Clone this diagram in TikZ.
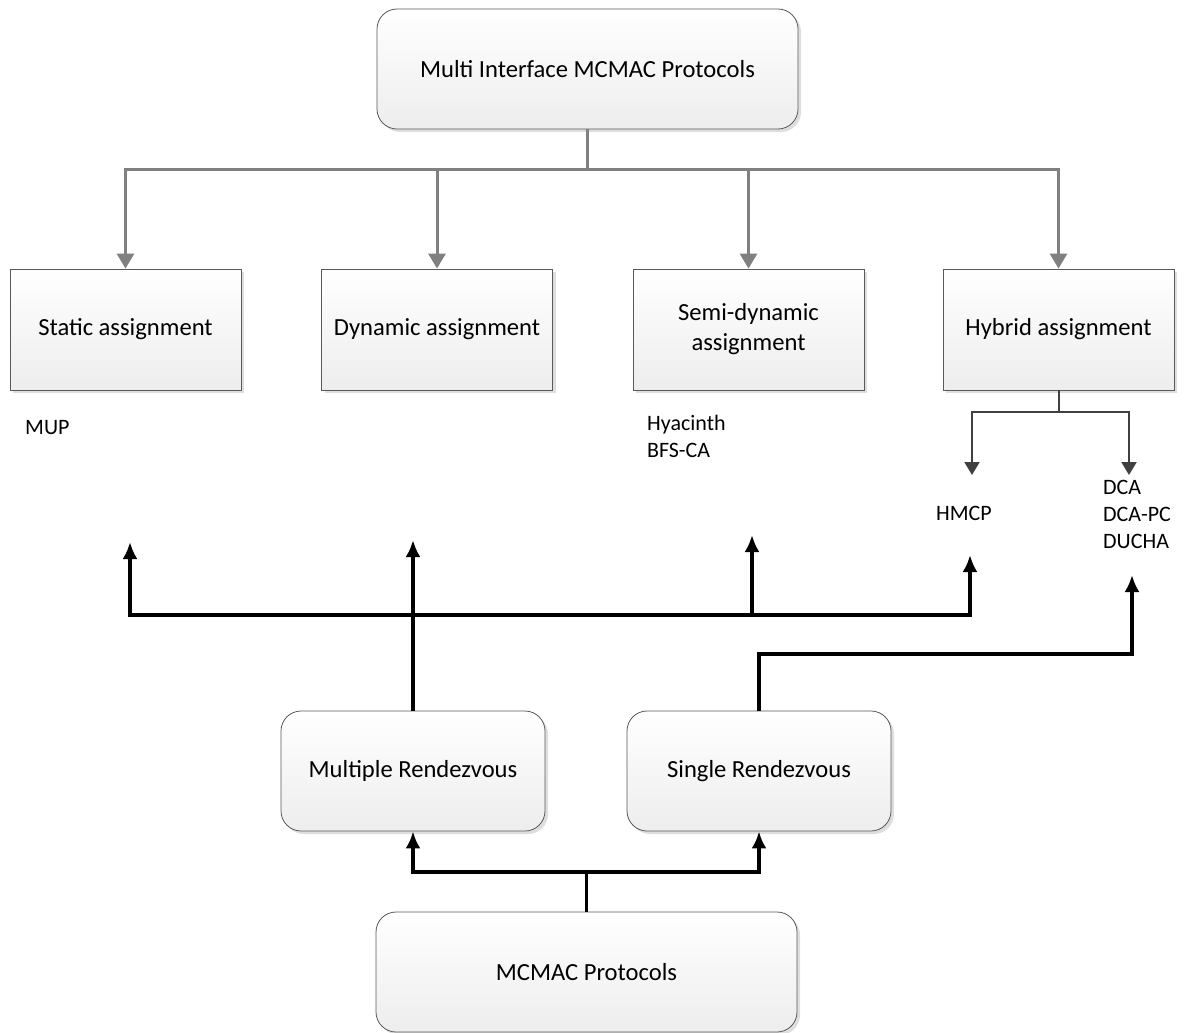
\documentclass[tikz,border=0pt]{standalone}
\usepackage{fontspec}
\setmainfont{Carlito}
\usetikzlibrary{arrows.meta,shadows,calc}
\begin{document}
\begin{tikzpicture}[x=1pt,y=-1pt,
  box/.style={draw=black!65, line width=0.8pt, top color=white, bottom color=black!7,
    drop shadow={shadow xshift=3pt, shadow yshift=-3pt, fill=black!13, opacity=1},
    font=\fontsize{24.6}{30}\selectfont, align=center, inner sep=0pt},
  rbox/.style={box, rounded corners=20pt},
  lbl/.style={font=\fontsize{22}{27}\selectfont, align=left, inner sep=0pt},
  grayarrow/.style={draw=black!50, line width=3pt, -{Triangle[length=15pt,width=17pt]}},
  grayline/.style={draw=black!50, line width=3pt},
  darkarrow/.style={draw=black!75, line width=2pt, -{Triangle[length=13pt,width=15pt]}},
  darkline/.style={draw=black!75, line width=2pt},
  blkarrow/.style={draw=black, line width=3.5pt, -{Latex[length=17pt,width=15pt]}},
  blkline/.style={draw=black, line width=3.5pt}
]
\useasboundingbox (0,0) rectangle (1186,1033);

% boxes
\node[rbox, minimum width=421pt, minimum height=120pt] (top) at (587.5,69) {Multi Interface MCMAC Protocols};
\node[box, minimum width=231pt, minimum height=121pt] (st) at (125.5,329.5) {Static assignment};
\node[box, minimum width=231pt, minimum height=121pt] (dy) at (437,329.5) {Dynamic assignment};
\node[box, minimum width=231pt, minimum height=121pt] (sd) at (748.5,329.5) {Semi-dynamic\\assignment};
\node[box, minimum width=231pt, minimum height=121pt] (hy) at (1058.5,329.5) {Hybrid assignment};
\node[rbox, minimum width=264pt, minimum height=120pt] (mr) at (413,771) {Multiple Rendezvous};
\node[rbox, minimum width=264pt, minimum height=120pt] (sr) at (759,771) {Single Rendezvous};
\node[rbox, minimum width=421pt, minimum height=120pt] (mc) at (586.5,972) {MCMAC Protocols};

% labels
\node[lbl, anchor=west] (mup) at (25,428) {MUP};
\node[lbl, anchor=north west] (hya) at (647,415) {Hyacinth\\BFS-CA};
\node[lbl] (hmcp) at (964,513) {HMCP};
\node[lbl, anchor=north west] (dca) at (1103,480) {DCA\\DCA-PC\\DUCHA};

% gray tree from top
\coordinate (tj) at (587.5,169);
\draw[grayline] (top.south) -- (tj);
\draw[grayarrow] (tj) -| (st.north);
\draw[grayarrow] (tj) -| (dy.north);
\draw[grayarrow] (tj) -| (sd.north);
\draw[grayarrow] (tj) -| (hy.north);

% hybrid split
\coordinate (hj) at (1058.5,412);
\coordinate (hmcpin) at (972,475);
\coordinate (dcain) at (1129,475);
\draw[darkline] (hy.south) -- (hj);
\draw[darkarrow] (hj) -| (hmcpin);
\draw[darkarrow] (hj) -| (dcain);

% black arrows from Multiple Rendezvous
\coordinate (mj) at (413,615);
\coordinate (mjb) at (752,615);
\coordinate (dyt) at (413,540);
\coordinate (stt) at (130,542);
\coordinate (sdt) at (752,535);
\coordinate (hmt) at (970,555);
\draw[blkarrow] (mr.north) -- (dyt);
\draw[blkarrow] (mj) -| (stt);
\draw[blkarrow] (mj) -| (sdt);
\draw[blkarrow] (mjb) -| (hmt);

% Single Rendezvous
\coordinate (sj) at (759,654);
\coordinate (dct) at (1132,575);
\draw[blkarrow] (sr.north) -- (sj) -| (dct);

% bottom
\coordinate (bj) at (586.5,872);
\draw[blkline] (mc.north) -- (bj);
\draw[blkarrow] (bj) -| (mr.south);
\draw[blkarrow] (bj) -| (sr.south);
\end{tikzpicture}
\end{document}
